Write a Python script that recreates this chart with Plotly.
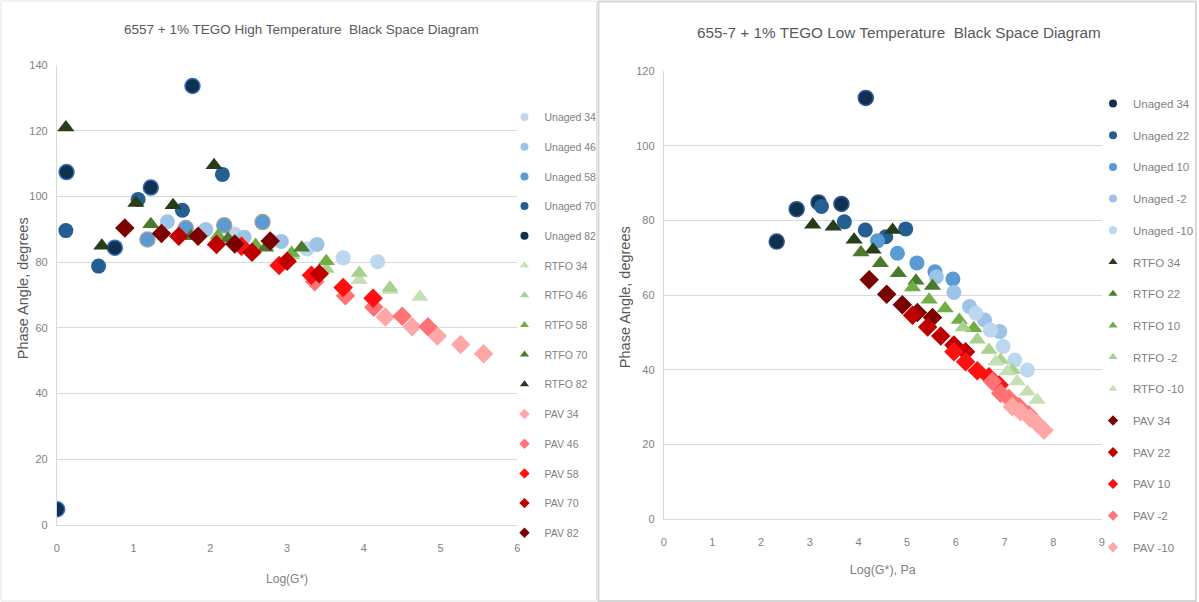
import plotly.graph_objects as go

W, H = 1199, 602

# ---- High temperature sweep (left panel): Log(G*) vs phase angle ----
HT_UNAGED = {
    "Unaged 34": ([2.31, 2.80, 3.26, 3.73, 4.18], [88.6, 86.4, 84.0, 81.3, 80.1]),
    "Unaged 46": ([1.44, 1.94, 2.44, 2.925, 3.39], [92.3, 89.9, 87.6, 86.3, 85.4]),
    "Unaged 58": ([1.18, 1.68, 2.18, 2.68], [86.9, 90.4, 91.2, 92.2]),
    "Unaged 70": ([0.117, 0.543, 1.059, 1.636, 2.157], [89.6, 78.8, 99.1, 95.8, 106.7]),
    "Unaged 82": ([0.004, 0.126, 0.755, 1.224, 1.767], [4.8, 107.4, 84.4, 102.7, 133.6]),
}
HT_RTFO = {
    "RTFO 34": ([3.94, 4.34, 4.73], [74.5, 71.5, 69.4]),
    "RTFO 46": ([3.06, 3.51, 3.94, 4.34], [82.0, 77.9, 76.7, 72.2]),
    "RTFO 58": ([2.10, 2.59, 3.06, 3.51], [88.0, 85.2, 82.8, 80.3]),
    "RTFO 70": ([1.224, 1.745, 2.23, 2.72, 3.19], [91.5, 87.9, 87.1, 84.4, 84.4]),
    "RTFO 82": ([0.117, 0.586, 1.03, 1.514, 2.048], [121.0, 85.0, 98.0, 97.3, 109.5]),
}
HT_PAV = {
    "PAV 34": ([4.28, 4.63, 4.957, 5.26, 5.56], [63.3, 60.3, 57.5, 54.9, 52.1]),
    "PAV 46": ([3.36, 3.76, 4.13, 4.50, 4.835], [74.0, 69.8, 66.3, 63.5, 60.3]),
    "PAV 58": ([2.405, 2.895, 3.316, 3.73, 4.12], [84.8, 79.0, 76.0, 72.3, 69.0]),
    "PAV 70": ([1.589, 2.08, 2.543, 3.0, 3.42], [87.9, 85.4, 83.0, 80.3, 76.5]),
    "PAV 82": ([0.885, 1.363, 1.84, 2.318, 2.78], [90.4, 88.7, 87.9, 85.5, 86.4]),
}

# ---- Low temperature sweep (right panel) ----
LT_UNAGED = {
    "Unaged 34": ([2.32, 2.73, 3.18, 3.65, 4.15], [74.3, 83.0, 84.8, 84.4, 112.8]),
    "Unaged 22": ([3.24, 3.71, 4.14, 4.56, 4.97], [83.7, 79.6, 77.4, 75.6, 77.7]),
    "Unaged 10": ([4.39, 4.80, 5.20, 5.57, 5.94], [74.5, 71.2, 68.6, 66.2, 64.3]),
    "Unaged -2": ([5.60, 5.96, 6.28, 6.59, 6.90], [64.9, 60.7, 56.9, 53.3, 50.2]),
    "Unaged -10": ([6.41, 6.71, 6.97, 7.21, 7.47], [55.1, 50.6, 46.2, 42.6, 39.9]),
}
LT_RTFO = {
    "RTFO 34": ([3.06, 3.48, 3.91, 4.30, 4.70], [78.8, 78.3, 74.8, 72.1, 77.4]),
    "RTFO 22": ([4.05, 4.45, 4.82, 5.18, 5.52], [71.4, 68.5, 65.8, 63.8, 62.4]),
    "RTFO 10": ([5.11, 5.45, 5.78, 6.07, 6.37], [62.0, 58.7, 56.4, 53.3, 51.1]),
    "RTFO -2": ([6.15, 6.44, 6.68, 6.92, 7.16], [51.3, 48.0, 45.3, 42.6, 39.9]),
    "RTFO -10": ([6.82, 7.06, 7.26, 7.47, 7.67], [42.1, 39.5, 36.8, 34.1, 31.9]),
}
LT_PAV = {
    "PAV 34": ([4.22, 4.58, 4.90, 5.21, 5.52], [64.1, 60.2, 57.4, 55.3, 54.0]),
    "PAV 22": ([5.11, 5.42, 5.69, 5.96, 6.20], [54.6, 51.4, 49.0, 46.6, 44.8]),
    "PAV 10": ([5.96, 6.20, 6.44, 6.68, 6.89], [44.8, 42.1, 39.7, 38.1, 35.9]),
    "PAV -2": ([6.75, 6.92, 7.09, 7.30, 7.50], [36.8, 33.7, 32.3, 30.1, 27.9]),
    "PAV -10": ([7.16, 7.33, 7.53, 7.67, 7.81], [30.1, 28.7, 27.0, 25.6, 23.8]),
}

BLUES = ["#BDD7EE", "#9DC3E6", "#5B9BD5", "#255E91", "#10304F"]
GREENS = ["#C5E0B4", "#A9D18E", "#70AD47", "#4A7A2C", "#263D18"]
REDS = ["#FFA7A7", "#FF7276", "#FF1010", "#C00000", "#7B0000"]

LT_BLUES = BLUES[::-1]
LT_GREENS = GREENS[::-1]
LT_REDS = REDS[::-1]

FONT = "Liberation Sans, Arial, sans-serif"
GRAY = "#7F7F7F"
DARK = "#595959"

fig = go.Figure()


def add_group(series, colors, symbol, xa, ya, legend, outlines=None):
    for i, (name, (xs, ys)) in enumerate(series.items()):
        line = dict(width=0)
        if outlines and name in outlines:
            line = dict(width=1.5, color=outlines[name])
        fig.add_trace(go.Scatter(
            x=xs, y=ys, mode="markers", name=name, xaxis=xa, yaxis=ya,
            showlegend=False,
            marker=dict(symbol=symbol, size=15, color=colors[i], line=line),
        ))
        # compact legend key
        fig.add_trace(go.Scatter(
            x=[None], y=[None], mode="markers", name=name, xaxis=xa, yaxis=ya,
            legend=legend, legendgroup=legend + name, showlegend=True,
            marker=dict(symbol=symbol, size=8, color=colors[i]),
        ))


add_group(HT_UNAGED, BLUES, "circle", "x", "y", "legend",
          outlines={"Unaged 82": "#3A6FC0", "Unaged 58": "#A0A0A0"})
add_group(HT_RTFO, GREENS, "triangle-up", "x", "y", "legend")
add_group(HT_PAV, REDS, "diamond", "x", "y", "legend")

add_group(LT_UNAGED, LT_BLUES, "circle", "x2", "y2", "legend2",
          outlines={"Unaged 34": "#2F5A92"})
add_group(LT_RTFO, LT_GREENS, "triangle-up", "x2", "y2", "legend2")
add_group(LT_PAV, LT_REDS, "diamond", "x2", "y2", "legend2")


def px_x(p):
    return p / W


def px_y(p):
    return (H - p) / H


tickfont = dict(family=FONT, size=11, color=GRAY)
xaxis_common = dict(
    showgrid=False, zeroline=False, showline=True, linecolor="#D9D9D9",
    linewidth=1, ticks="", tickfont=tickfont, ticklabelstandoff=13,
    automargin=False,
)
yaxis_common = dict(
    showgrid=True, gridcolor="#D9D9D9", gridwidth=1, zeroline=False,
    showline=True, linecolor="#D9D9D9", ticks="", tickfont=tickfont,
    ticklabelstandoff=6, automargin=False,
)
ytitle_font = dict(family=FONT, size=14.5, color=DARK)

fig.update_layout(
    width=W, height=H,
    margin=dict(l=0, r=0, t=0, b=0),
    paper_bgcolor="white", plot_bgcolor="white",
    xaxis=dict(xaxis_common, domain=[px_x(57.5), px_x(523)], range=[0, 6],
               dtick=1, anchor="y",
               title=dict(text="Log(G*)", font=dict(family=FONT, size=12, color=GRAY),
                          standoff=21)),
    yaxis=dict(yaxis_common, domain=[px_y(525), px_y(65)], range=[0, 140],
               dtick=20, anchor="x"),
    xaxis2=dict(xaxis_common, domain=[px_x(671), px_x(1114)], range=[0, 9],
                dtick=1, anchor="y2",
                title=dict(text="Log(G*), Pa", font=dict(family=FONT, size=12.5, color=GRAY),
                           standoff=18)),
    yaxis2=dict(yaxis_common, domain=[px_y(519), px_y(71)], range=[0, 120],
                dtick=20, anchor="x2"),
    legend=dict(x=px_x(510), y=px_y(102.5), xanchor="left", yanchor="top",
                font=dict(family=FONT, size=10.5, color=GRAY),
                tracegroupgap=10.7, bgcolor="rgba(0,0,0,0)", itemsizing="trace"),
    legend2=dict(x=px_x(1105), y=px_y(89), xanchor="left", yanchor="top",
                 font=dict(family=FONT, size=11.5, color=GRAY),
                 tracegroupgap=12.7, bgcolor="rgba(0,0,0,0)", itemsizing="trace"),
    annotations=[
        dict(text="6557 + 1% TEGO High Temperature  Black Space Diagram",
             x=px_x(305), y=px_y(30), xref="paper", yref="paper",
             xanchor="center", yanchor="middle",
             showarrow=False, font=dict(family=FONT, size=13.5, color=DARK)),
        dict(text="655-7 + 1% TEGO Low Temperature  Black Space Diagram",
             x=px_x(909), y=px_y(32), xref="paper", yref="paper",
             xanchor="center", yanchor="middle",
             showarrow=False, font=dict(family=FONT, size=15.3, color=DARK)),
        # y-axis titles
        dict(text="Phase Angle, degrees", textangle=-90,
             x=px_x(23.5), y=px_y(288), xref="paper", yref="paper",
             xanchor="center", yanchor="middle",
             showarrow=False, font=ytitle_font),
        dict(text="Phase Angle, degrees", textangle=-90,
             x=px_x(632), y=px_y(297), xref="paper", yref="paper",
             xanchor="center", yanchor="middle",
             showarrow=False, font=ytitle_font),
    ],
    shapes=[
        dict(type="rect", xref="paper", yref="paper", x0=px_x(1), x1=px_x(603),
             y0=px_y(601), y1=px_y(1), line=dict(color="#E3E3E3", width=1)),
        dict(type="rect", xref="paper", yref="paper", x0=px_x(605), x1=px_x(1209),
             y0=px_y(601), y1=px_y(1.5), line=dict(color="#D6D6D6", width=2)),
    ],
)

fig.write_html("out.html")
